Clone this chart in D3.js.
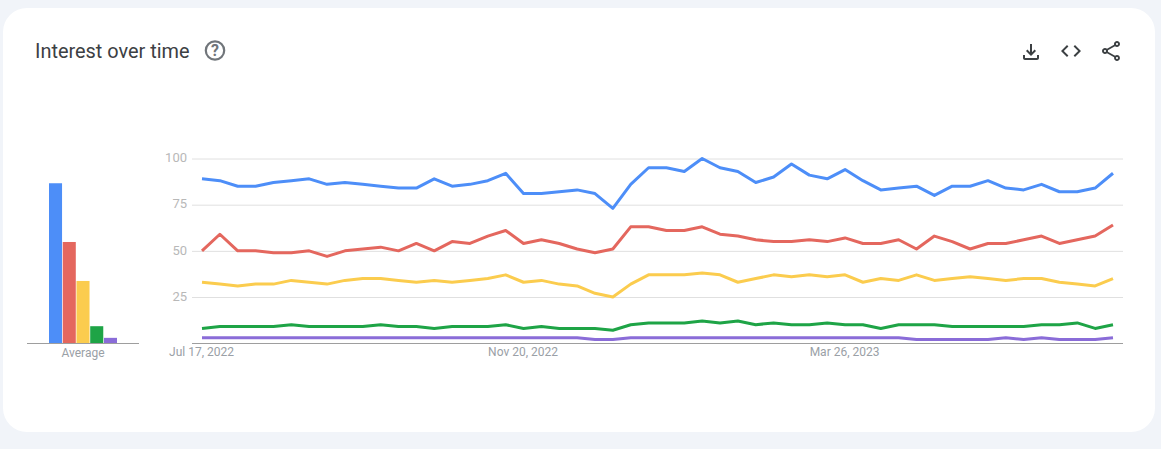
<!DOCTYPE html>
<html>
<head>
<meta charset="utf-8">
<script src="https://cdn.jsdelivr.net/npm/d3@7"></script>
<style>
  html, body { margin: 0; padding: 0; background: #f1f4f9; overflow: hidden; }
  svg { display: block; font-family: Roboto, sans-serif; }
</style>
</head>
<body>
<div id="chart"></div>
<script>
const seriesNames = ["blue", "red", "yellow", "green", "purple"];
const colors = ["#4d8ef8", "#e4675e", "#fbcc4e", "#1ea446", "#8a6cd8"];

const blue = [89,88,85,85,87,88,89,86,87,86,85,84,84,89,85,86,88,92,81,81,82,83,81,73,86,95,95,93,100,95,93,87,90,97,91,89,94,88,83,84,85,80,85,85,88,84,83,86,82,82,84,92];
const red = [50,59,50,50,49,49,50,47,50,51,52,50,54,50,55,54,58,61,54,56,54,51,49,51,63,63,61,61,63,59,58,56,55,55,56,55,57,54,54,56,51,58,55,51,54,54,56,58,54,56,58,64];
const yellow = [33,32,31,32,32,34,33,32,34,35,35,34,33,34,33,34,35,37,33,34,32,31,27,25,32,37,37,37,38,37,33,35,37,36,37,36,37,33,35,34,37,34,35,36,35,34,35,35,33,32,31,35];
const green = [8,9,9,9,9,10,9,9,9,9,10,9,9,8,9,9,9,10,8,9,8,8,8,7,10,11,11,11,12,11,12,10,11,10,10,11,10,10,8,10,10,10,9,9,9,9,9,10,10,11,8,10];
const purple = [3,3,3,3,3,3,3,3,3,3,3,3,3,3,3,3,3,3,3,3,3,3,2,2,3,3,3,3,3,3,3,3,3,3,3,3,3,3,3,3,2,2,2,2,2,3,2,3,2,2,2,3];
const averages = [86.6, 54.8, 33.7, 9.2, 2.9];

const yTicks = [25, 50, 75, 100];
const xTickLabels = ["2022-07-17", "2022-11-20", "2023-03-26"];
const firstWeek = "2022-07-17";

const width = 1161, height = 449;
const parse = d3.utcParse("%Y-%m-%d");
const weeks = d3.range(blue.length).map(i => d3.utcWeek.offset(parse(firstWeek), i));
const allSeries = [blue, red, yellow, green, purple];

const svg = d3.select("#chart").append("svg")
  .attr("width", width)
  .attr("height", height);

// white card
svg.append("rect")
  .attr("x", 3).attr("y", 8)
  .attr("width", 1152).attr("height", 424)
  .attr("rx", 24)
  .attr("fill", "#fff");

// header
svg.append("text")
  .attr("x", 35).attr("y", 58)
  .attr("font-size", 19.9)
  .attr("fill", "#3c4043")
  .text("Interest over time");

const help = svg.append("g").attr("transform", "translate(215,50.5)");
help.append("circle")
  .attr("r", 9.2)
  .attr("fill", "none")
  .attr("stroke", "#70757a")
  .attr("stroke-width", 2.2);
help.append("text")
  .attr("y", 5.7)
  .attr("text-anchor", "middle")
  .attr("font-size", 16)
  .attr("font-weight", 700)
  .attr("fill", "#70757a")
  .text("?");

// toolbar icons
const icons = [
  { x: 1019, y: 40, d: "M18 15v3H6v-3H4v3c0 1.1.9 2 2 2h12c1.1 0 2-.9 2-2v-3h-2zm-1-4l-1.41-1.41L13 12.17V4h-2v8.17L8.41 9.59 7 11l5 5 5-5z" },
  { x: 1059, y: 39, d: "M9.4 16.6L4.8 12l4.6-4.6L8 6l-6 6 6 6 1.4-1.4zm5.2 0l4.6-4.6-4.6-4.6L16 6l6 6-6 6-1.4-1.4z" },
  { x: 1099, y: 39, d: "M18 16.08c-.76 0-1.44.3-1.96.77L8.91 12.7c.05-.23.09-.46.09-.7s-.04-.47-.09-.7l7.05-4.11c.54.5 1.25.81 2.04.81 1.66 0 3-1.34 3-3s-1.34-3-3-3-3 1.34-3 3c0 .24.04.47.09.7L8.04 9.81C7.5 9.31 6.79 9 6 9c-1.66 0-3 1.34-3 3s1.34 3 3 3c.79 0 1.5-.31 2.04-.81l7.12 4.16c-.05.21-.08.43-.08.65 0 1.61 1.31 2.92 2.92 2.92 1.61 0 2.92-1.31 2.92-2.92s-1.31-2.92-2.92-2.92zM18 4c.55 0 1 .45 1 1s-.45 1-1 1-1-.45-1-1 .45-1 1-1zM6 13c-.55 0-1-.45-1-1s.45-1 1-1 1 .45 1 1-.45 1-1 1zm12 7.02c-.55 0-1-.45-1-1s.45-1 1-1 1 .45 1 1-.45 1-1 1z" }
];
svg.selectAll(".icon")
  .data(icons)
  .enter()
  .append("path")
  .attr("class", "icon")
  .attr("transform", d => "translate(" + d.x + "," + d.y + ")")
  .attr("d", d => d.d)
  .attr("fill", "#3c4043");

// shared vertical scale
const y = d3.scaleLinear().domain([0, 100]).range([343.2, 158.5]);

// average bars
const xBar = d3.scaleBand()
  .domain(seriesNames)
  .range([49, 117])
  .paddingInner(0.05);

svg.selectAll(".bar")
  .data(averages)
  .enter()
  .append("rect")
  .attr("class", "bar")
  .attr("x", (d, i) => xBar(seriesNames[i]))
  .attr("y", d => y(d))
  .attr("width", xBar.bandwidth())
  .attr("height", d => y(0) - y(d))
  .attr("fill", (d, i) => colors[i]);

svg.append("line")
  .attr("x1", 27).attr("x2", 139)
  .attr("y1", y(0) + 0.3).attr("y2", y(0) + 0.3)
  .attr("stroke", "#9e9e9e");

svg.append("text")
  .attr("x", 83).attr("y", 357)
  .attr("text-anchor", "middle")
  .attr("font-size", 12)
  .attr("fill", "#9aa0a6")
  .text("Average");

// time chart
const x = d3.scaleUtc()
  .domain(d3.extent(weeks))
  .range([202, 1113]);

const gridLeft = 192, gridRight = 1123;

const yAxis = d3.axisLeft(y).tickValues(yTicks).tickSize(0).tickPadding(5);
const yG = svg.append("g").attr("transform", "translate(" + gridLeft + ",0)").call(yAxis);
yG.select(".domain").remove();
yG.selectAll("text")
  .attr("y", -1)
  .attr("font-family", "Roboto, sans-serif")
  .attr("font-size", 13)
  .attr("fill", "#b8b8b8");
yG.selectAll(".tick line")
  .attr("x2", gridRight - gridLeft)
  .attr("stroke", "#e0e0e0");

const xAxis = d3.axisBottom(x)
  .tickValues(xTickLabels.map(parse))
  .tickFormat(d3.utcFormat("%b %d, %Y"))
  .tickSize(0)
  .tickPadding(4);
const xG = svg.append("g").attr("transform", "translate(0," + (y(0) + 0.3) + ")").call(xAxis);
xG.select(".domain").remove();
xG.selectAll("text")
  .attr("x", -1)
  .attr("font-family", "Roboto, sans-serif")
  .attr("font-size", 12)
  .attr("fill", "#9aa0a6");

svg.append("line")
  .attr("x1", gridLeft).attr("x2", gridRight)
  .attr("y1", y(0) + 0.3).attr("y2", y(0) + 0.3)
  .attr("stroke", "#9e9e9e");

const line = d3.line()
  .x((d, i) => x(weeks[i]))
  .y(d => y(d));

svg.selectAll(".series")
  .data(allSeries)
  .enter()
  .append("path")
  .attr("class", "series")
  .attr("d", line)
  .attr("fill", "none")
  .attr("stroke", (d, i) => colors[i])
  .attr("stroke-width", 3)
  .attr("stroke-linejoin", "round");
</script>
</body>
</html>
